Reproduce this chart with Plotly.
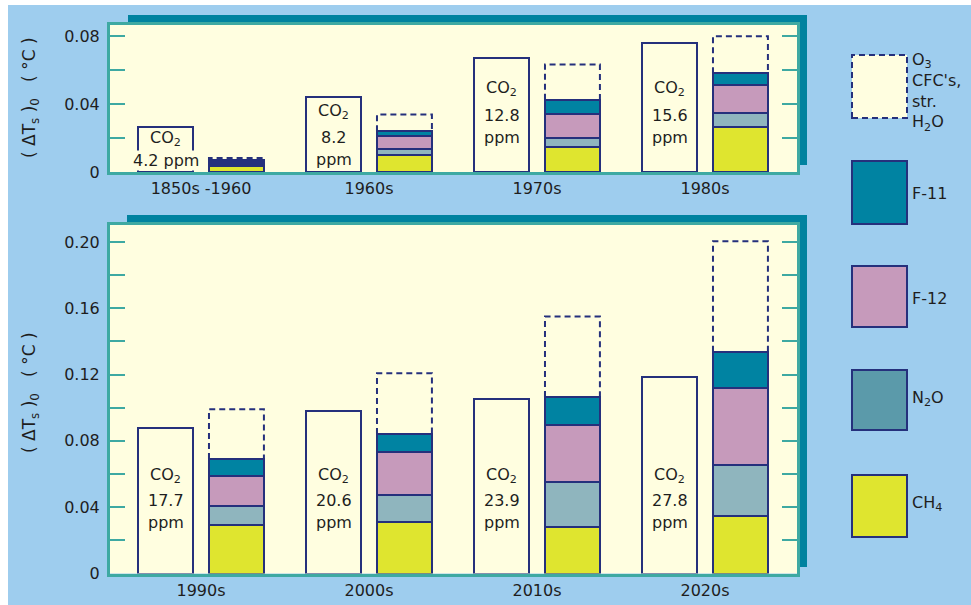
import numpy as np
import plotly.graph_objects as go

# ---- data -------------------------------------------------------------
top_periods = ["1850s -1960", "1960s", "1970s", "1980s"]
bot_periods = ["1990s", "2000s", "2010s", "2020s"]

top_co2 = [0.0264, 0.0442, 0.0674, 0.0760]
top_co2_ppm = ["4.2", "8.2", "12.8", "15.6"]
top_ch4 = [0.0038, 0.0103, 0.0146, 0.0263]
top_n2o = [0.0007, 0.0034, 0.0056, 0.0086]
top_f12 = [0.0012, 0.0073, 0.0142, 0.0166]
top_f11 = [0.0011, 0.0031, 0.0082, 0.0068]
top_other = [0.0014, 0.0098, 0.0209, 0.0219]   # O3, CFC's, strat. H2O

bot_co2 = [0.0875, 0.0983, 0.1055, 0.1186]
bot_co2_ppm = ["17.7", "20.6", "23.9", "27.8"]
bot_ch4 = [0.0293, 0.0311, 0.0281, 0.0346]
bot_n2o = [0.0117, 0.0163, 0.0268, 0.0311]
bot_f12 = [0.0181, 0.0258, 0.0345, 0.0463]
bot_f11 = [0.0100, 0.0110, 0.0171, 0.0217]
bot_other = [0.0300, 0.0366, 0.0485, 0.0667]

top_ticks = [0, 0.04, 0.08]
top_ticktext = ["0", "0.04", "0.08"]
bot_ticks = [0, 0.04, 0.08, 0.12, 0.16, 0.20]
bot_ticktext = ["0", "0.04", "0.08", "0.12", "0.16", "0.20"]

# ---- style ------------------------------------------------------------
W, H = 971, 605
SKY = "#9ecdee"
CREAM = "#fffee0"
FRAME = "#3ea9a2"
SHADOW = "#00829f"
NAVY = "#25307c"
C_F11 = "#0083a2"
C_F12 = "#c69abb"
C_N2O = "#8fb5be"
C_N2O_KEY = "#5b9aaa"
C_CH4 = "#dfe52f"
TXT = "#1e1e1e"
FONT = "DejaVu Sans"

OFF = 0.211     # half distance between the two bars of a period
BW = 0.327      # bar width


def fx(px):
    return px / W


def fy(py):
    return 1 - py / H


fig = go.Figure()


def add_panel(xa, ya, co2, ch4, n2o, f12, f11, other):
    n = len(co2)
    xs = np.arange(n)
    bar_line = dict(color=NAVY, width=2)
    fig.add_trace(go.Bar(x=xs - OFF, y=co2, width=BW, xaxis=xa, yaxis=ya,
                         marker=dict(color=CREAM, line=bar_line), showlegend=False))
    for vals, col in [(ch4, C_CH4), (n2o, C_N2O), (f12, C_F12), (f11, C_F11)]:
        fig.add_trace(go.Bar(x=xs + OFF, y=vals, width=BW, xaxis=xa, yaxis=ya,
                             marker=dict(color=col, line=bar_line), showlegend=False))
    base = np.array(ch4) + np.array(n2o) + np.array(f12) + np.array(f11)
    total = base + np.array(other)
    px_, py_ = [], []
    for i in range(n):
        l, r = i + OFF - BW / 2, i + OFF + BW / 2
        px_ += [l, l, r, r, None]
        py_ += [base[i], total[i], total[i], base[i], None]
    fig.add_trace(go.Scatter(x=px_, y=py_, mode="lines", xaxis=xa, yaxis=ya,
                             line=dict(color=NAVY, width=2, dash="6px,4px"),
                             showlegend=False, hoverinfo="skip"))


add_panel("x", "y", top_co2, top_ch4, top_n2o, top_f12, top_f11, top_other)
add_panel("x2", "y2", bot_co2, bot_ch4, bot_n2o, bot_f12, bot_f11, bot_other)

# ---- background, shadows and plot frames --------------------------------
shapes = [
    dict(type="rect", xref="paper", yref="paper", x0=fx(8), x1=1, y0=0, y1=fy(5),
         fillcolor=SKY, line=dict(width=0), layer="below"),
    dict(type="rect", xref="paper", yref="paper", x0=fx(128), x1=fx(807),
         y0=fy(165), y1=fy(15), fillcolor=SHADOW, line=dict(width=0), layer="below"),
    dict(type="rect", xref="paper", yref="paper", x0=fx(127), x1=fx(807),
         y0=fy(567), y1=fy(215), fillcolor=SHADOW, line=dict(width=0), layer="below"),
    dict(type="rect", xref="x domain", yref="y domain", x0=0, x1=1, y0=0, y1=1,
         fillcolor=CREAM, line=dict(width=0), layer="below"),
    dict(type="rect", xref="x2 domain", yref="y2 domain", x0=0, x1=1, y0=0, y1=1,
         fillcolor=CREAM, line=dict(width=0), layer="below"),
]

# ---- key ---------------------------------------------------------------
key_boxes = [
    (55, 118, CREAM, "6px,4px"),
    (161, 224, C_F11, "solid"),
    (266, 327, C_F12, "solid"),
    (370, 430, C_N2O_KEY, "solid"),
    (475, 537, C_CH4, "solid"),
]
for y0, y1, col, dash in key_boxes:
    shapes.append(dict(type="rect", xref="paper", yref="paper",
                       x0=fx(852), x1=fx(907), y0=fy(y1), y1=fy(y0),
                       fillcolor=col, line=dict(color=NAVY, width=2, dash=dash)))

annotations = []
key_font = dict(family=FONT, size=16, color=TXT)
annotations.append(dict(xref="paper", yref="paper", x=fx(910), y=fy(48),
                        xanchor="left", yanchor="top", align="left", showarrow=False,
                        text="O<sub>3</sub><br>CFC's,<br>str.<br>H<sub>2</sub>O",
                        font=key_font))
for label, yc in [("F-11", 193), ("F-12", 298), ("N<sub>2</sub>O", 398),
                  ("CH<sub>4</sub>", 503)]:
    annotations.append(dict(xref="paper", yref="paper", x=fx(910), y=fy(yc),
                            xanchor="left", yanchor="middle", showarrow=False,
                            text=label, font=key_font))

# ---- y-axis titles -------------------------------------------------------
ytitle = "( ΔT<sub>s</sub> )<sub>0</sub>   ( °C )"
for yc in (98, 393):
    annotations.append(dict(xref="paper", yref="paper", x=fx(30), y=fy(yc),
                            xanchor="center", yanchor="middle", showarrow=False,
                            textangle=-90, text=ytitle,
                            font=dict(family=FONT, size=17, color=TXT)))

# ---- CO2 labels inside the white bars ----------------------------------
txt_font = dict(family=FONT, size=16, color=TXT)


def co2_labels(xa, ppm, rows):
    for i, p in enumerate(ppm):
        one_line, ys = rows[i]
        lines = ["CO<sub>2</sub>"] + ([p + " ppm"] if one_line else [p, "ppm"])
        for text, yy in zip(lines, ys):
            ann = dict(xref=xa, yref="paper", x=i - OFF, y=fy(yy),
                       xanchor="center", yanchor="middle", showarrow=False,
                       text=text, font=txt_font)
            if " ppm" in text:
                ann.update(bgcolor=CREAM, borderpad=0)
            annotations.append(ann)


co2_labels("x", top_co2_ppm, [(True, [138, 160]), (False, [112, 137, 159]),
                              (False, [88, 115, 137]), (False, [88, 115, 137])])
co2_labels("x2", bot_co2_ppm, [(False, [475, 500, 522])] * 4)

# ---- axes ---------------------------------------------------------------
xr = [(110 - 201) / 168, (797 - 201) / 168]
xcommon = dict(range=xr, showline=True, linecolor=FRAME, linewidth=3, mirror=True,
               ticks="", showgrid=False, zeroline=False, tickvals=[0, 1, 2, 3],
               automargin=False,
               tickfont=dict(family=FONT, size=16, color=TXT), fixedrange=True)
ycommon = dict(showline=True, linecolor=FRAME, linewidth=3, mirror="ticks",
               ticks="inside", ticklen=15, tickwidth=2, tickcolor=FRAME,
               minor=dict(ticks="inside", ticklen=15, tickwidth=2, tickcolor=FRAME,
                          dtick=0.02, tick0=0),
               showgrid=False, zeroline=False, ticklabelstandoff=4, automargin=False,
               tickfont=dict(family=FONT, size=16, color=TXT), fixedrange=True)

fig.update_layout(
    width=W, height=H, margin=dict(l=0, r=0, t=0, b=0, autoexpand=False),
    paper_bgcolor="white", plot_bgcolor="rgba(0,0,0,0)",
    barmode="stack", bargap=0, showlegend=False,
    xaxis=dict(xcommon, domain=[fx(110), fx(797)], anchor="y", ticktext=top_periods),
    yaxis=dict(ycommon, domain=[fy(172), fy(25)], anchor="x",
               range=[0, (172 - 25) / 1694], tickvals=top_ticks, ticktext=top_ticktext),
    xaxis2=dict(xcommon, domain=[fx(110), fx(797)], anchor="y2", ticktext=bot_periods),
    yaxis2=dict(ycommon, domain=[fy(573.5), fy(225)], anchor="x2",
                range=[0, (573.5 - 225) / 1658], tickvals=bot_ticks, ticktext=bot_ticktext),
    shapes=shapes, annotations=annotations,
)

fig.write_html("out.html")
